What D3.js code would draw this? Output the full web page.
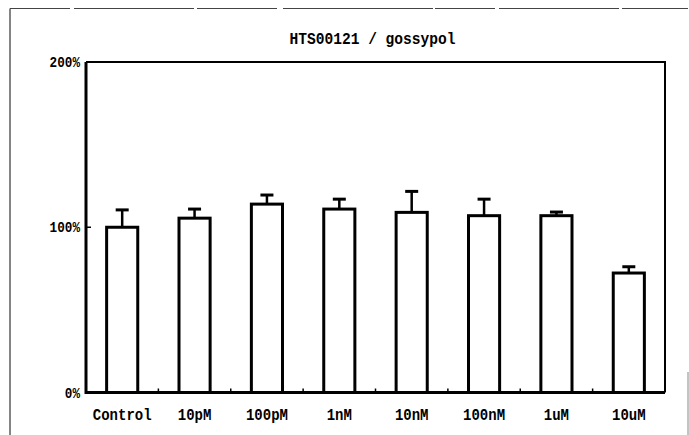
<!DOCTYPE html>
<html>
<head>
<meta charset="utf-8">
<script src="https://cdn.jsdelivr.net/npm/d3@7"></script>
<title>HTS00121 / gossypol</title>
<style>
  body { margin: 0; background: #fff; }
  text { font-family: "Liberation Mono", "DejaVu Sans Mono", monospace; fill: #000; font-weight: bold; }
</style>
</head>
<body>
<svg width="689" height="435" id="mainsvg"></svg>
<script>
  const categories = ["Control", "10pM", "100pM", "1nM", "10nM", "100nM", "1uM", "10uM"];
  const means = [100, 105.5, 114, 111, 109, 107, 107, 72.3];
  const errors = [10.5, 5.5, 5.5, 6, 12.7, 10, 2.2, 3.8];
  const yTicks = [0, 100, 200];

  const svg = d3.select("#mainsvg");
  const margin = {left: 86, right: 24, top: 62, bottom: 42.5};
  const width = +svg.attr("width"), height = +svg.attr("height");
  const iw = width - margin.left - margin.right;
  const ih = height - margin.top - margin.bottom;

  // scanned page frame: solid left edge, broken top edge, faint right edge at the bottom
  svg.append("line")
    .attr("x1", 10).attr("x2", 10).attr("y1", 8.5).attr("y2", 435)
    .attr("stroke", "#333").attr("stroke-width", 1.2);
  svg.append("line")
    .attr("x1", 10).attr("x2", 688).attr("y1", 8.5).attr("y2", 8.5)
    .attr("stroke", "#444").attr("stroke-width", 1.2)
    .attr("stroke-dasharray", "60,4,120,3,80,6,150,2");
  svg.append("line")
    .attr("x1", 688).attr("x2", 688).attr("y1", 372).attr("y2", 435)
    .attr("stroke", "#888").attr("stroke-width", 1);

  svg.append("text")
    .attr("x", margin.left + iw / 2 - 3).attr("y", 44)
    .attr("text-anchor", "middle").attr("font-size", 16)
    .attr("textLength", 166).attr("lengthAdjust", "spacingAndGlyphs")
    .text("HTS00121 / gossypol");

  const g = svg.append("g").attr("transform", `translate(${margin.left},${margin.top})`);

  const x = d3.scaleBand().domain(categories).range([0, iw])
    .paddingInner(0.57).paddingOuter(0.285);
  const y = d3.scaleLinear().domain([0, 200]).range([ih, 0]);

  // y labels
  g.selectAll(".ylab").data(yTicks).join("text")
    .attr("class", "ylab")
    .attr("x", -6).attr("y", d => y(d) + 5)
    .attr("text-anchor", "end").attr("font-size", 15)
    .attr("textLength", d => (String(d).length + 1) * 7.6)
    .attr("lengthAdjust", "spacingAndGlyphs")
    .text(d => d + "%");

  // inward y ticks
  g.selectAll(".ytick").data([100]).join("line")
    .attr("x1", 0).attr("x2", 5)
    .attr("y1", d => y(d)).attr("y2", d => y(d))
    .attr("stroke", "#000").attr("stroke-width", 1.5);

  // bottom ticks between categories
  const bounds = d3.range(1, categories.length).map(i => i * x.step());
  g.selectAll(".xtick").data(bounds).join("line")
    .attr("x1", d => d).attr("x2", d => d)
    .attr("y1", ih).attr("y2", ih - 4)
    .attr("stroke", "#000").attr("stroke-width", 1.5);

  const data = categories.map((c, i) => ({c, m: means[i], e: errors[i]}));

  // error bars
  g.selectAll(".err").data(data).join("line")
    .attr("x1", d => x(d.c) + x.bandwidth() / 2).attr("x2", d => x(d.c) + x.bandwidth() / 2)
    .attr("y1", d => y(d.m)).attr("y2", d => y(d.m + d.e))
    .attr("stroke", "#000").attr("stroke-width", 2.5);
  g.selectAll(".cap").data(data).join("line")
    .attr("x1", d => x(d.c) + x.bandwidth() / 2 - 6.5).attr("x2", d => x(d.c) + x.bandwidth() / 2 + 6.5)
    .attr("y1", d => y(d.m + d.e)).attr("y2", d => y(d.m + d.e))
    .attr("stroke", "#000").attr("stroke-width", 3);

  // bars
  g.selectAll(".bar").data(data).join("rect")
    .attr("x", d => x(d.c)).attr("width", x.bandwidth())
    .attr("y", d => y(d.m)).attr("height", d => ih - y(d.m))
    .attr("fill", "#fff").attr("stroke", "#000").attr("stroke-width", 3);

  // plot frame
  g.append("path")
    .attr("d", `M0,0 L${iw},0 L${iw},${ih}`)
    .attr("fill", "none").attr("stroke", "#000").attr("stroke-width", 2);
  g.append("path")
    .attr("d", `M0,0 L0,${ih} L${iw},${ih}`)
    .attr("fill", "none").attr("stroke", "#000").attr("stroke-width", 3);

  // category labels
  g.selectAll(".xlab").data(categories).join("text")
    .attr("class", "xlab")
    .attr("x", d => x(d) + x.bandwidth() / 2)
    .attr("y", ih + 27)
    .attr("text-anchor", "middle").attr("font-size", 16)
    .attr("textLength", d => d.length * 8.4)
    .attr("lengthAdjust", "spacingAndGlyphs")
    .text(d => d);
</script>
</body>
</html>
